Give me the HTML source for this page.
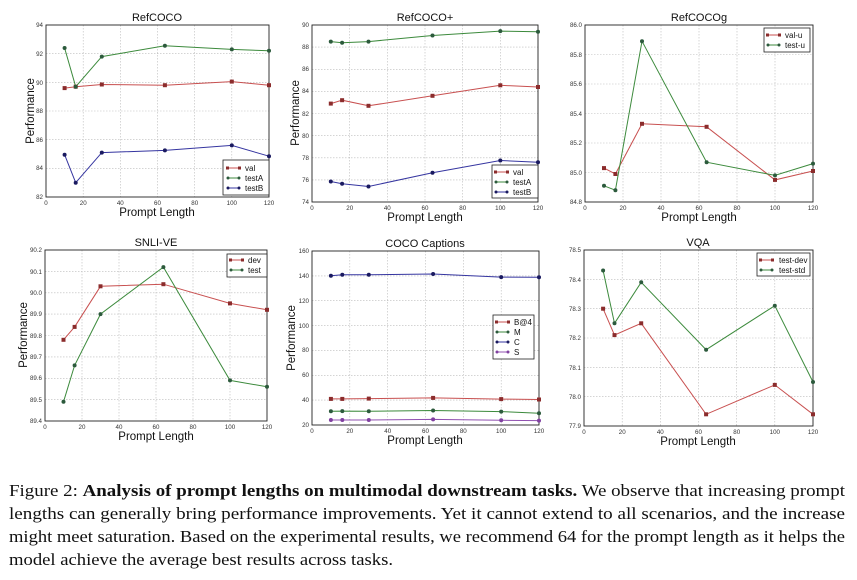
<!DOCTYPE html>
<html><head><meta charset="utf-8"><style>
html,body{margin:0;padding:0;background:#fff;width:857px;height:580px;overflow:hidden}
svg{position:absolute;left:0;top:0}
.t{font-family:"Liberation Sans",sans-serif;font-size:6.2px;fill:#333}
.ti{font-family:"Liberation Sans",sans-serif;font-size:11px;fill:#111}
.al{font-family:"Liberation Sans",sans-serif;font-size:11.5px;fill:#111}
.lg{font-family:"Liberation Sans",sans-serif;font-size:8px;fill:#111}
.g{stroke:#bbb;stroke-width:0.6;stroke-dasharray:1.5,1.5}
.ax{fill:none;stroke:#222;stroke-width:0.9}
.r{fill:none;stroke:#c85050;stroke-width:1}
.gr{fill:none;stroke:#3c8a3c;stroke-width:1}
.b{fill:none;stroke:#3535a0;stroke-width:1}
.p{fill:none;stroke:#9050b0;stroke-width:1}
.cap{font-family:"Liberation Serif",serif;font-size:16.5px;fill:#111}
</style></head><body>
<svg width="857" height="580" viewBox="0 0 857 580">
<!-- Panel 1 RefCOCO -->
<g>
<path class="g" d="M83.2 25V197M120.3 25V197M157.5 25V197M194.7 25V197M231.8 25V197M46 168.3H269M46 139.7H269M46 111H269M46 82.3H269M46 53.7H269"/>
<rect class="ax" x="46" y="25" width="223" height="172"/>
<g class="t" text-anchor="end"><text x="43" y="199">82</text><text x="43" y="170">84</text><text x="43" y="142">86</text><text x="43" y="113">88</text><text x="43" y="85">90</text><text x="43" y="56">92</text><text x="43" y="27">94</text></g>
<g class="t" text-anchor="middle"><text x="46" y="205">0</text><text x="83.2" y="205">20</text><text x="120.3" y="205">40</text><text x="157.5" y="205">60</text><text x="194.7" y="205">80</text><text x="231.8" y="205">100</text><text x="269" y="205">120</text></g>
<text class="ti" x="157" y="21" text-anchor="middle">RefCOCO</text>
<text class="al" x="157" y="216" text-anchor="middle">Prompt Length</text>
<text class="al" transform="translate(34,111) rotate(-90)" text-anchor="middle">Performance</text>
<polyline class="r" points="64.6,88.1 75.7,86.7 101.8,84.5 164.9,85.2 231.8,81.6 269,85.2"/>
<polyline class="gr" points="64.6,48 75.7,86.7 101.8,56.6 164.9,45.8 231.8,49.4 269,50.8"/>
<polyline class="b" points="64.6,154.7 75.7,182.7 101.8,152.6 164.9,150.4 231.8,145.4 269,156.2"/>
<g fill="#8b2c2c"><rect x="62.6" y="86.1" width="4" height="4"/><rect x="73.7" y="84.7" width="4" height="4"/><rect x="99.8" y="82.5" width="4" height="4"/><rect x="162.9" y="83.2" width="4" height="4"/><rect x="229.8" y="79.6" width="4" height="4"/><rect x="267" y="83.2" width="4" height="4"/></g>
<g fill="#2c5a3c"><circle cx="64.6" cy="48" r="2"/><circle cx="75.7" cy="86.7" r="2"/><circle cx="101.8" cy="56.6" r="2"/><circle cx="164.9" cy="45.8" r="2"/><circle cx="231.8" cy="49.4" r="2"/><circle cx="269" cy="50.8" r="2"/></g>
<g fill="#1a1a60"><circle cx="64.6" cy="154.7" r="2"/><circle cx="75.7" cy="182.7" r="2"/><circle cx="101.8" cy="152.6" r="2"/><circle cx="164.9" cy="150.4" r="2"/><circle cx="231.8" cy="145.4" r="2"/><circle cx="269" cy="156.2" r="2"/></g>
<rect x="223" y="160" width="46" height="35" fill="#fff" stroke="#222" stroke-width="0.8"/>
<path class="r" d="M227 168H240"/><rect x="226" y="166.5" width="3" height="3" fill="#8b2c2c"/><rect x="238" y="166.5" width="3" height="3" fill="#8b2c2c"/><text class="lg" x="245" y="171">val</text>
<path class="gr" d="M227 178H240"/><circle cx="228" cy="178" r="1.5" fill="#2c5a3c"/><circle cx="239" cy="178" r="1.5" fill="#2c5a3c"/><text class="lg" x="245" y="181">testA</text>
<path class="b" d="M227 188H240"/><circle cx="228" cy="188" r="1.5" fill="#1a1a60"/><circle cx="239" cy="188" r="1.5" fill="#1a1a60"/><text class="lg" x="245" y="191">testB</text>
</g>
<!-- Panel 2 RefCOCO+ -->
<g>
<path class="g" d="M349.7 25V202M387.3 25V202M425 25V202M462.7 25V202M500.3 25V202M312 179.9H538M312 157.8H538M312 135.6H538M312 113.5H538M312 91.4H538M312 69.3H538M312 47.1H538"/>
<rect class="ax" x="312" y="25" width="226" height="177"/>
<g class="t" text-anchor="end"><text x="309" y="204">74</text><text x="309" y="182">76</text><text x="309" y="160">78</text><text x="309" y="138">80</text><text x="309" y="116">82</text><text x="309" y="93">84</text><text x="309" y="71">86</text><text x="309" y="49">88</text><text x="309" y="27">90</text></g>
<g class="t" text-anchor="middle"><text x="312" y="210">0</text><text x="349.7" y="210">20</text><text x="387.3" y="210">40</text><text x="425" y="210">60</text><text x="462.7" y="210">80</text><text x="500.3" y="210">100</text><text x="538" y="210">120</text></g>
<text class="ti" x="425" y="21" text-anchor="middle">RefCOCO+</text>
<text class="al" x="425" y="221" text-anchor="middle">Prompt Length</text>
<text class="al" transform="translate(299,113) rotate(-90)" text-anchor="middle">Performance</text>
<polyline class="r" points="330.8,103.6 342.1,100.2 368.5,105.8 432.5,95.8 500.3,85.3 538,87"/>
<polyline class="gr" points="330.8,41.6 342.1,42.7 368.5,41.6 432.5,35.5 500.3,31.1 538,31.7"/>
<polyline class="b" points="330.8,181.5 342.1,183.8 368.5,186.5 432.5,172.7 500.3,160.5 538,162.2"/>
<g fill="#8b2c2c"><rect x="328.8" y="101.6" width="4" height="4"/><rect x="340.1" y="98.2" width="4" height="4"/><rect x="366.5" y="103.8" width="4" height="4"/><rect x="430.5" y="93.8" width="4" height="4"/><rect x="498.3" y="83.3" width="4" height="4"/><rect x="536" y="85" width="4" height="4"/></g>
<g fill="#2c5a3c"><circle cx="330.8" cy="41.6" r="2"/><circle cx="342.1" cy="42.7" r="2"/><circle cx="368.5" cy="41.6" r="2"/><circle cx="432.5" cy="35.5" r="2"/><circle cx="500.3" cy="31.1" r="2"/><circle cx="538" cy="31.7" r="2"/></g>
<g fill="#1a1a60"><circle cx="330.8" cy="181.5" r="2"/><circle cx="342.1" cy="183.8" r="2"/><circle cx="368.5" cy="186.5" r="2"/><circle cx="432.5" cy="172.7" r="2"/><circle cx="500.3" cy="160.5" r="2"/><circle cx="538" cy="162.2" r="2"/></g>
<rect x="492" y="165" width="46" height="33" fill="#fff" stroke="#222" stroke-width="0.8"/>
<path class="r" d="M495 172H508"/><rect x="494" y="170.5" width="3" height="3" fill="#8b2c2c"/><rect x="506" y="170.5" width="3" height="3" fill="#8b2c2c"/><text class="lg" x="513" y="175">val</text>
<path class="gr" d="M495 182H508"/><circle cx="496" cy="182" r="1.5" fill="#2c5a3c"/><circle cx="507" cy="182" r="1.5" fill="#2c5a3c"/><text class="lg" x="513" y="185">testA</text>
<path class="b" d="M495 192H508"/><circle cx="496" cy="192" r="1.5" fill="#1a1a60"/><circle cx="507" cy="192" r="1.5" fill="#1a1a60"/><text class="lg" x="513" y="195">testB</text>
</g>
<!-- Panel 3 RefCOCOg -->
<g>
<path class="g" d="M623 25V202M661 25V202M699 25V202M737 25V202M775 25V202M585 172.5H813M585 143H813M585 113.5H813M585 84H813M585 54.5H813"/>
<rect class="ax" x="585" y="25" width="228" height="177"/>
<g class="t" text-anchor="end"><text x="582" y="204">84.8</text><text x="582" y="175">85.0</text><text x="582" y="145">85.2</text><text x="582" y="116">85.4</text><text x="582" y="86">85.6</text><text x="582" y="57">85.8</text><text x="582" y="27">86.0</text></g>
<g class="t" text-anchor="middle"><text x="585" y="210">0</text><text x="623" y="210">20</text><text x="661" y="210">40</text><text x="699" y="210">60</text><text x="737" y="210">80</text><text x="775" y="210">100</text><text x="813" y="210">120</text></g>
<text class="ti" x="699" y="21" text-anchor="middle">RefCOCOg</text>
<text class="al" x="699" y="221" text-anchor="middle">Prompt Length</text>
<polyline class="r" points="604,168.1 615.4,174 642,123.8 706.6,126.8 775,179.9 813,171"/>
<polyline class="gr" points="604,185.8 615.4,190.2 642,41.2 706.6,162.2 775,175.4 813,163.6"/>
<g fill="#8b2c2c"><rect x="602" y="166.1" width="4" height="4"/><rect x="613.4" y="172" width="4" height="4"/><rect x="640" y="121.8" width="4" height="4"/><rect x="704.6" y="124.8" width="4" height="4"/><rect x="773" y="177.9" width="4" height="4"/><rect x="811" y="169" width="4" height="4"/></g>
<g fill="#2c5a3c"><circle cx="604" cy="185.8" r="2"/><circle cx="615.4" cy="190.2" r="2"/><circle cx="642" cy="41.2" r="2"/><circle cx="706.6" cy="162.2" r="2"/><circle cx="775" cy="175.4" r="2"/><circle cx="813" cy="163.6" r="2"/></g>
<rect x="764" y="28" width="46" height="24" fill="#fff" stroke="#222" stroke-width="0.8"/>
<path class="r" d="M767 35H780"/><rect x="766" y="33.5" width="3" height="3" fill="#8b2c2c"/><rect x="778" y="33.5" width="3" height="3" fill="#8b2c2c"/><text class="lg" x="785" y="38">val-u</text>
<path class="gr" d="M767 45H780"/><circle cx="768" cy="45" r="1.5" fill="#2c5a3c"/><circle cx="779" cy="45" r="1.5" fill="#2c5a3c"/><text class="lg" x="785" y="48">test-u</text>
</g>
<!-- Panel 4 SNLI-VE -->
<g>
<path class="g" d="M82 250V421M119 250V421M156 250V421M193 250V421M230 250V421M45 399.6H267M45 378.3H267M45 356.9H267M45 335.5H267M45 314.1H267M45 292.8H267M45 271.4H267"/>
<rect class="ax" x="45" y="250" width="222" height="171"/>
<g class="t" text-anchor="end"><text x="42" y="423">89.4</text><text x="42" y="402">89.5</text><text x="42" y="380">89.6</text><text x="42" y="359">89.7</text><text x="42" y="338">89.8</text><text x="42" y="316">89.9</text><text x="42" y="295">90.0</text><text x="42" y="274">90.1</text><text x="42" y="252">90.2</text></g>
<g class="t" text-anchor="middle"><text x="45" y="429">0</text><text x="82" y="429">20</text><text x="119" y="429">40</text><text x="156" y="429">60</text><text x="193" y="429">80</text><text x="230" y="429">100</text><text x="267" y="429">120</text></g>
<text class="ti" x="156" y="246" text-anchor="middle">SNLI-VE</text>
<text class="al" x="156" y="440" text-anchor="middle">Prompt Length</text>
<text class="al" transform="translate(27,335) rotate(-90)" text-anchor="middle">Performance</text>
<polyline class="r" points="63.5,339.8 74.6,326.9 100.5,286.3 163.4,284.2 230,303.4 267,309.8"/>
<polyline class="gr" points="63.5,401.8 74.6,365.4 100.5,314.1 163.4,267.1 230,380.4 267,386.8"/>
<g fill="#8b2c2c"><rect x="61.5" y="337.8" width="4" height="4"/><rect x="72.6" y="324.9" width="4" height="4"/><rect x="98.5" y="284.3" width="4" height="4"/><rect x="161.4" y="282.2" width="4" height="4"/><rect x="228" y="301.4" width="4" height="4"/><rect x="265" y="307.8" width="4" height="4"/></g>
<g fill="#2c5a3c"><circle cx="63.5" cy="401.8" r="2"/><circle cx="74.6" cy="365.4" r="2"/><circle cx="100.5" cy="314.1" r="2"/><circle cx="163.4" cy="267.1" r="2"/><circle cx="230" cy="380.4" r="2"/><circle cx="267" cy="386.8" r="2"/></g>
<rect x="227" y="254" width="40" height="23" fill="#fff" stroke="#222" stroke-width="0.8"/>
<path class="r" d="M230 260H243"/><rect x="229" y="258.5" width="3" height="3" fill="#8b2c2c"/><rect x="241" y="258.5" width="3" height="3" fill="#8b2c2c"/><text class="lg" x="248" y="263">dev</text>
<path class="gr" d="M230 270H243"/><circle cx="231" cy="270" r="1.5" fill="#2c5a3c"/><circle cx="242" cy="270" r="1.5" fill="#2c5a3c"/><text class="lg" x="248" y="273">test</text>
</g>
<!-- Panel 5 COCO Captions -->
<g>
<path class="g" d="M349.8 251V425M387.7 251V425M425.5 251V425M463.3 251V425M501.2 251V425M312 400.1H539M312 375.3H539M312 350.4H539M312 325.6H539M312 300.7H539M312 275.9H539"/>
<rect class="ax" x="312" y="251" width="227" height="174"/>
<g class="t" text-anchor="end"><text x="309" y="427">20</text><text x="309" y="402">40</text><text x="309" y="377">60</text><text x="309" y="352">80</text><text x="309" y="328">100</text><text x="309" y="303">120</text><text x="309" y="278">140</text><text x="309" y="253">160</text></g>
<g class="t" text-anchor="middle"><text x="312" y="433">0</text><text x="349.8" y="433">20</text><text x="387.7" y="433">40</text><text x="425.5" y="433">60</text><text x="463.3" y="433">80</text><text x="501.2" y="433">100</text><text x="539" y="433">120</text></g>
<text class="ti" x="425" y="247" text-anchor="middle">COCO Captions</text>
<text class="al" x="425" y="444" text-anchor="middle">Prompt Length</text>
<text class="al" transform="translate(295,338) rotate(-90)" text-anchor="middle">Performance</text>
<polyline class="r" points="330.9,398.9 342.3,398.9 368.8,398.6 433.1,397.9 501.2,399.1 539,399.5"/>
<polyline class="gr" points="330.9,411.3 342.3,411.1 368.8,411.3 433.1,410.5 501.2,411.6 539,413.2"/>
<polyline class="b" points="330.9,275.8 342.3,274.8 368.8,274.8 433.1,274 501.2,277.1 539,277.3"/>
<polyline class="p" points="330.9,420 342.3,420 368.8,420 433.1,419.4 501.2,420.3 539,420.6"/>
<g fill="#8b2c2c"><rect x="328.9" y="396.9" width="4" height="4"/><rect x="340.3" y="396.9" width="4" height="4"/><rect x="366.8" y="396.6" width="4" height="4"/><rect x="431.1" y="395.9" width="4" height="4"/><rect x="499.2" y="397.1" width="4" height="4"/><rect x="537" y="397.5" width="4" height="4"/></g>
<g fill="#2c5a3c"><circle cx="330.9" cy="411.3" r="2"/><circle cx="342.3" cy="411.1" r="2"/><circle cx="368.8" cy="411.3" r="2"/><circle cx="433.1" cy="410.5" r="2"/><circle cx="501.2" cy="411.6" r="2"/><circle cx="539" cy="413.2" r="2"/></g>
<g fill="#1a1a60"><circle cx="330.9" cy="275.8" r="2"/><circle cx="342.3" cy="274.8" r="2"/><circle cx="368.8" cy="274.8" r="2"/><circle cx="433.1" cy="274" r="2"/><circle cx="501.2" cy="277.1" r="2"/><circle cx="539" cy="277.3" r="2"/></g>
<g fill="#8040a0"><circle cx="330.9" cy="420" r="2"/><circle cx="342.3" cy="420" r="2"/><circle cx="368.8" cy="420" r="2"/><circle cx="433.1" cy="419.4" r="2"/><circle cx="501.2" cy="420.3" r="2"/><circle cx="539" cy="420.6" r="2"/></g>
<rect x="493" y="315" width="41" height="44" fill="#fff" stroke="#222" stroke-width="0.8"/>
<path class="r" d="M496 322H509"/><rect x="495" y="320.5" width="3" height="3" fill="#8b2c2c"/><rect x="507" y="320.5" width="3" height="3" fill="#8b2c2c"/><text class="lg" x="514" y="325">B@4</text>
<path class="gr" d="M496 332H509"/><circle cx="497" cy="332" r="1.5" fill="#2c5a3c"/><circle cx="508" cy="332" r="1.5" fill="#2c5a3c"/><text class="lg" x="514" y="335">M</text>
<path class="b" d="M496 342H509"/><circle cx="497" cy="342" r="1.5" fill="#1a1a60"/><circle cx="508" cy="342" r="1.5" fill="#1a1a60"/><text class="lg" x="514" y="345">C</text>
<path class="p" d="M496 352H509"/><circle cx="497" cy="352" r="1.5" fill="#8040a0"/><circle cx="508" cy="352" r="1.5" fill="#8040a0"/><text class="lg" x="514" y="355">S</text>
</g>
<!-- Panel 6 VQA -->
<g>
<path class="g" d="M622.2 250V426M660.3 250V426M698.5 250V426M736.7 250V426M774.8 250V426M584 396.7H813M584 367.3H813M584 338H813M584 308.7H813M584 279.3H813"/>
<rect class="ax" x="584" y="250" width="229" height="176"/>
<g class="t" text-anchor="end"><text x="581" y="428">77.9</text><text x="581" y="399">78.0</text><text x="581" y="370">78.1</text><text x="581" y="340">78.2</text><text x="581" y="311">78.3</text><text x="581" y="282">78.4</text><text x="581" y="252">78.5</text></g>
<g class="t" text-anchor="middle"><text x="584" y="434">0</text><text x="622.2" y="434">20</text><text x="660.3" y="434">40</text><text x="698.5" y="434">60</text><text x="736.7" y="434">80</text><text x="774.8" y="434">100</text><text x="813" y="434">120</text></g>
<text class="ti" x="698" y="246" text-anchor="middle">VQA</text>
<text class="al" x="698" y="445" text-anchor="middle">Prompt Length</text>
<polyline class="r" points="603.1,308.7 614.5,335.1 641.2,323.3 706.1,414.3 774.8,384.9 813,414.3"/>
<polyline class="gr" points="603.1,270.5 614.5,323.3 641.2,282.3 706.1,349.7 774.8,305.7 813,382"/>
<g fill="#8b2c2c"><rect x="601.1" y="306.7" width="4" height="4"/><rect x="612.5" y="333.1" width="4" height="4"/><rect x="639.2" y="321.3" width="4" height="4"/><rect x="704.1" y="412.3" width="4" height="4"/><rect x="772.8" y="382.9" width="4" height="4"/><rect x="811" y="412.3" width="4" height="4"/></g>
<g fill="#2c5a3c"><circle cx="603.1" cy="270.5" r="2"/><circle cx="614.5" cy="323.3" r="2"/><circle cx="641.2" cy="282.3" r="2"/><circle cx="706.1" cy="349.7" r="2"/><circle cx="774.8" cy="305.7" r="2"/><circle cx="813" cy="382" r="2"/></g>
<rect x="757" y="253" width="53" height="23" fill="#fff" stroke="#222" stroke-width="0.8"/>
<path class="r" d="M760 260H773"/><rect x="759" y="258.5" width="3" height="3" fill="#8b2c2c"/><rect x="771" y="258.5" width="3" height="3" fill="#8b2c2c"/><text class="lg" x="779" y="263">test-dev</text>
<path class="gr" d="M760 270H773"/><circle cx="761" cy="270" r="1.5" fill="#2c5a3c"/><circle cx="772" cy="270" r="1.5" fill="#2c5a3c"/><text class="lg" x="779" y="273">test-std</text>
</g>
<!-- Caption -->
<text class="cap" x="9" y="496" textLength="836" lengthAdjust="spacingAndGlyphs">Figure 2: <tspan font-weight="bold">Analysis of prompt lengths on multimodal downstream tasks.</tspan>   We observe that increasing prompt</text>
<text class="cap" x="9" y="519" textLength="836" lengthAdjust="spacingAndGlyphs">lengths can generally bring performance improvements.  Yet it cannot extend to all scenarios, and the increase</text>
<text class="cap" x="9" y="542" textLength="836" lengthAdjust="spacingAndGlyphs">might meet saturation. Based on the experimental results, we recommend 64 for the prompt length as it helps the</text>
<text class="cap" x="9" y="565" textLength="384" lengthAdjust="spacingAndGlyphs">model achieve the average best results across tasks.</text>
</svg>
</body></html>
